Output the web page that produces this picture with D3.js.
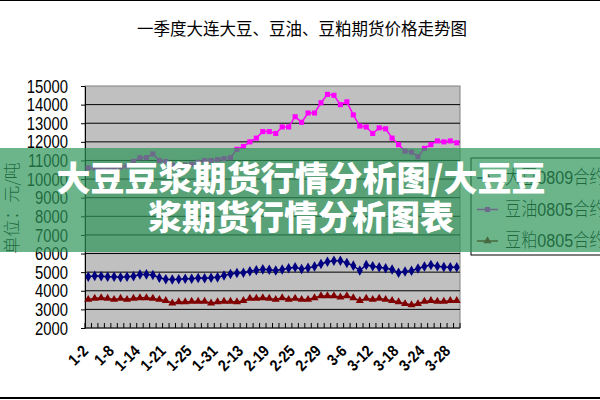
<!DOCTYPE html>
<html lang="zh">
<head>
    <meta charset="UTF-8">
    <title>一季度大连大豆、豆油、豆粕期货价格走势图</title>
    <script src="https://cdn.jsdelivr.net/npm/d3@7/dist/d3.min.js"></script>
    <style>
        body { margin: 0; background: #fff; }
        .narrow { font-family: "Liberation Sans", Arial, sans-serif; }
        .cjk { font-family: "Noto Sans CJK SC", sans-serif; }
    </style>
</head>
<body>
<svg id="main-svg" width="600" height="400" xmlns="http://www.w3.org/2000/svg"></svg>

<script>
    'use strict';
    /* 交易日（1-18 缺数据） */
    const dates = ['1-2', '1-3', '1-4', '1-7', '1-8', '1-9', '1-10', '1-11', '1-14', '1-15',
        '1-16', '1-17', '1-21', '1-22', '1-23', '1-24', '1-25', '1-28', '1-29', '1-30',
        '1-31', '2-1', '2-4', '2-5', '2-13', '2-14', '2-15', '2-18', '2-19', '2-20',
        '2-21', '2-22', '2-25', '2-26', '2-27', '2-28', '2-29', '3-3', '3-4', '3-5',
        '3-6', '3-7', '3-10', '3-11', '3-12', '3-13', '3-14', '3-17', '3-18', '3-19',
        '3-20', '3-21', '3-24', '3-25', '3-26', '3-27', '3-28', '3-31'];
    /* 大豆0809 */
    const soybean = [4750, 4800, 4780, 4750, 4750, 4730, 4750, 4780, 4870, 4880,
        4850, 4700, 4620, 4600, 4620, 4650, 4640, 4680, 4670, 4700,
        4720, 4820, 4900, 4950, 4970, 5050, 5100, 5150, 5130, 5090,
        5140, 5210, 5260, 5175, 5230, 5300, 5440, 5560, 5610, 5610,
        5490, 5350, 5090, 5390, 5320, 5260, 5210, 5140, 4970, 5035,
        5080, 5200, 5300, 5390, 5320, 5280, 5260, 5260];
    /* 豆油0805 */
    const soyOil = [10600, 10600, 10550, 10600, 10600, 10650, 10700, 10950, 11150, 11150,
        11350, 11000, 10950, 10750, 10700, 10750, 10800, 10900, 11000, 11000,
        11050, 11100, 11150, 11600, 11750, 12000, 12200, 12550, 12550, 12450,
        12800, 12800, 13350, 13050, 13550, 13550, 14100, 14550, 14500, 14000,
        14150, 13450, 12850, 12800, 12450, 12750, 12700, 12200, 11850, 11500,
        11450, 11200, 11650, 11850, 12050, 12000, 12050, 11950];
    /* 豆粕0805 */
    const soyMeal = [3530, 3585, 3620, 3585, 3530, 3585, 3530, 3585, 3620, 3620,
        3585, 3530, 3470, 3340, 3400, 3400, 3430, 3430, 3430, 3340,
        3400, 3430, 3430, 3400, 3470, 3585, 3585, 3620, 3585, 3530,
        3620, 3530, 3585, 3530, 3530, 3620, 3720, 3720, 3720, 3660,
        3720, 3620, 3470, 3585, 3530, 3585, 3530, 3470, 3400, 3300,
        3245, 3300, 3430, 3470, 3430, 3430, 3470, 3470];
    const seriesNames = ['大豆0809合约', '豆油0805合约', '豆粕0805合约'];
    const yTicks = [2000, 3000, 4000, 5000, 6000, 7000, 8000, 9000, 10000,
        11000, 12000, 13000, 14000, 15000];

    const series = [
        {name: seriesNames[0], values: soybean, color: '#000080', symbol: d3.symbolDiamond, size: 32},
        {name: seriesNames[1], values: soyOil, color: '#FF00FF', symbol: d3.symbolSquare, size: 26},
        {name: seriesNames[2], values: soyMeal, color: '#800000', symbol: d3.symbolTriangle, size: 28}
    ];

    const svg = d3.select('#main-svg');
    const plot = {left: 85, right: 460, top: 86, bottom: 328};
    const squeeze = 0.78; // 数字字体横向压缩，模拟窄体

    const x = d3.scaleBand().domain(dates).range([plot.left, plot.right]);
    const cx = d => x(d) + x.bandwidth() / 2;
    const y = d3.scaleLinear().domain([2000, 15000]).range([plot.bottom, plot.top]);

    /* 外框线 */
    svg.append('rect').attr('x', 0).attr('y', 0).attr('width', 600).attr('height', 1).attr('fill', '#000');
    svg.append('rect').attr('x', 0).attr('y', 397).attr('width', 600).attr('height', 2).attr('fill', '#000');

    /* 标题 */
    svg.append('text').attr('class', 'cjk')
        .attr('x', 302).attr('y', 35)
        .attr('text-anchor', 'middle')
        .attr('font-size', 16.5)
        .text('一季度大连大豆、豆油、豆粕期货价格走势图');

    /* 绘图区 */
    svg.append('rect')
        .attr('x', plot.left).attr('y', plot.top)
        .attr('width', plot.right - plot.left).attr('height', plot.bottom - plot.top)
        .attr('fill', '#C0C0C0').attr('stroke', '#808080');

    /* 网格线 */
    svg.append('g').selectAll('line')
        .data(yTicks.filter(v => v > 2000 && v < 15000))
        .join('line')
        .attr('x1', plot.left).attr('x2', plot.right)
        .attr('y1', v => y(v)).attr('y2', v => y(v))
        .attr('stroke', '#000').attr('stroke-width', 1);

    /* Y 轴 */
    const yAxis = svg.append('g')
        .attr('transform', `translate(${plot.left},0)`)
        .call(d3.axisLeft(y).tickValues(yTicks).tickFormat(d3.format('d')).tickSize(4).tickSizeOuter(0));
    yAxis.select('.domain').attr('stroke', '#000');
    yAxis.selectAll('text')
        .attr('font-size', 19).attr('fill', '#000')
        .attr('font-family', '"Liberation Sans", Arial, sans-serif')
        .attr('x', -17 / squeeze)
        .attr('transform', `scale(${squeeze},1)`);

    /* X 轴：类别间刻度线 */
    svg.append('line')
        .attr('x1', plot.left).attr('x2', plot.right)
        .attr('y1', plot.bottom).attr('y2', plot.bottom)
        .attr('stroke', '#000');
    svg.append('g').selectAll('line')
        .data(dates.concat(['end']))
        .join('line')
        .attr('x1', (d, i) => plot.left + i * x.bandwidth())
        .attr('x2', (d, i) => plot.left + i * x.bandwidth())
        .attr('y1', plot.bottom).attr('y2', plot.bottom - 5)
        .attr('stroke', '#000');

    svg.append('g').selectAll('text')
        .data(dates.filter((d, i) => i % 4 === 0))
        .join('text')
        .attr('class', 'narrow')
        .attr('font-size', 16).attr('font-weight', 'bold')
        .attr('text-anchor', 'end')
        .attr('transform', d => `translate(${cx(d) + 1},352) rotate(-45) scale(0.88,1)`)
        .text(d => d);

    /* Y 轴标题 */
    svg.append('text').attr('class', 'cjk')
        .attr('transform', 'translate(18,208) rotate(-90)')
        .attr('text-anchor', 'middle')
        .attr('font-size', 17).attr('font-weight', 300)
        .text('单位：元/吨');

    /* 折线与标记 */
    const line = d3.line().x((v, i) => cx(dates[i])).y(v => y(v));
    series.forEach(s => {
        svg.append('path')
            .datum(s.values)
            .attr('d', line)
            .attr('fill', 'none')
            .attr('stroke', s.color)
            .attr('stroke-width', 1.5);
        svg.append('g').selectAll('path')
            .data(s.values)
            .join('path')
            .attr('d', d3.symbol().type(s.symbol).size(s.size))
            .attr('transform', (v, i) => `translate(${cx(dates[i])},${y(v)})`)
            .attr('fill', s.color);
    });

    /* 图例 */
    const legend = svg.append('g');
    legend.append('rect')
        .attr('x', 471).attr('y', 158).attr('width', 140).attr('height', 97)
        .attr('fill', '#fff').attr('stroke', '#000');
    const items = legend.selectAll('g.item')
        .data(series)
        .join('g')
        .attr('transform', (s, i) => `translate(0,${178 + i * 31.5})`);
    items.append('line')
        .attr('x1', 477).attr('x2', 498)
        .attr('stroke', s => s.color).attr('stroke-width', 1.5);
    items.append('path')
        .attr('d', s => d3.symbol().type(s.symbol).size(s.size)())
        .attr('transform', 'translate(487.5,0)')
        .attr('fill', s => s.color);
    items.append('text')
        .attr('font-family', '"Liberation Sans", "Noto Sans CJK SC", sans-serif')
        .attr('font-weight', 300)
        .attr('transform', 'translate(505,6) scale(0.85,1)')
        .attr('font-size', 19)
        .text(s => s.name);

    /* 半透明横幅 */
    svg.append('rect')
        .attr('x', 0).attr('y', 148).attr('width', 600).attr('height', 104)
        .attr('fill', 'rgb(45,150,90)').attr('fill-opacity', 0.7);
    const bannerLines = ['大豆豆浆期货行情分析图/大豆豆', '浆期货行情分析图表'];
    svg.append('g').selectAll('text')
        .data(bannerLines)
        .join('text')
        .attr('class', 'cjk')
        .attr('x', 301)
        .attr('y', (d, i) => 191 + i * 39)
        .attr('text-anchor', 'middle')
        .attr('font-size', 34).attr('font-weight', 900)
        .attr('fill', '#fff')
        .text(d => d);
</script>
</body>
</html>
